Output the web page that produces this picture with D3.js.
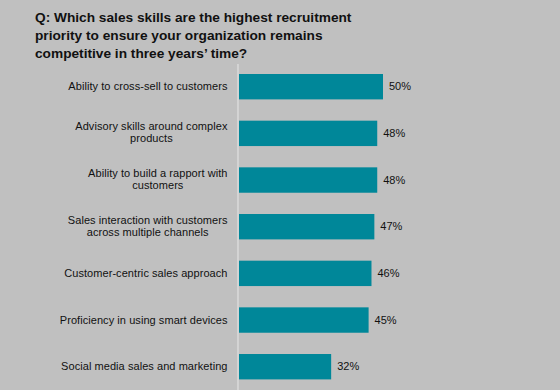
<!DOCTYPE html>
<html>
<head>
<meta charset="utf-8">
<script src="https://cdn.jsdelivr.net/npm/d3@7"></script>
<style>
  html, body { margin: 0; padding: 0; background: #c0c0c0; }
  svg { display: block; }
  text { font-family: Arial, "Liberation Sans", sans-serif; fill: #111; }
</style>
</head>
<body>
<svg id="chart" width="560" height="390"></svg>
<script>
const titleLines = [
  "Q: Which sales skills are the highest recruitment",
  "priority to ensure your organization remains",
  "competitive in three years\u2019 time?"
];
const categories = [
  ["Ability to cross-sell to customers"],
  ["Advisory skills around complex", "products"],
  ["Ability to build a rapport with", "customers"],
  ["Sales interaction with customers", "across multiple channels"],
  ["Customer-centric sales approach"],
  ["Proficiency in using smart devices"],
  ["Social media sales and marketing"]
];
const values = [50, 48, 48, 47, 46, 45, 32];
const valueLabels = ["50%", "48%", "48%", "47%", "46%", "45%", "32%"];

const svg = d3.select("#chart");
svg.append("rect").attr("width", 560).attr("height", 390).attr("fill", "#c0c0c0");

// Title
const title = svg.append("text")
  .attr("x", 35).attr("y", 22)
  .style("font-size", "13.7px").style("font-weight", "bold");
titleLines.forEach((l, i) => {
  title.append("tspan").attr("x", 35).attr("y", 22 + i * 17.8).text(l);
});

const idx = d3.range(values.length);
const y = d3.scaleBand().domain(idx).range([74, 379.4]).paddingInner(0.456).paddingOuter(0);
const x = d3.scaleLinear().domain([0, 50]).range([239, 383]);

// axis line
svg.append("line")
  .attr("x1", 238).attr("x2", 238).attr("y1", 64).attr("y2", 390)
  .attr("stroke", "#d9d9d9").attr("stroke-width", 1.6);

// bars
svg.selectAll("rect.bar").data(values).join("rect")
  .attr("class", "bar")
  .attr("x", x(0))
  .attr("y", (d, i) => y(i))
  .attr("width", d => x(d) - x(0))
  .attr("height", y.bandwidth())
  .attr("fill", "#008799");

// value labels
svg.selectAll("text.val").data(values).join("text")
  .attr("class", "val")
  .attr("x", d => x(d) + 6)
  .attr("y", (d, i) => y(i) + y.bandwidth() / 2 + 3.6)
  .style("font-size", "11px")
  .text((d, i) => valueLabels[i]);

// category labels
const rightEdge = 227.5;
categories.forEach((lines, i) => {
  const cy = y(i) + y.bandwidth() / 2;
  const g = svg.append("g");
  const texts = lines.map((l, j) => {
    const base = lines.length === 1 ? cy + 3.6 : cy - 3 + j * 12;
    return g.append("text").attr("y", base).style("font-size", "11px")
      .style("letter-spacing", "0.06px")
      .attr("text-anchor", "middle").text(l);
  });
  const w = d3.max(texts, t => t.node().getComputedTextLength());
  texts.forEach(t => t.attr("x", rightEdge - w / 2));
});
</script>
</body>
</html>
